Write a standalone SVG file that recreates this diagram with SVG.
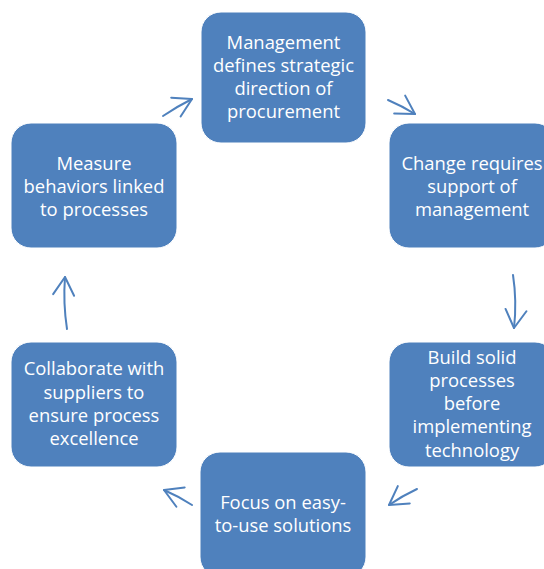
<svg xmlns="http://www.w3.org/2000/svg" width="544" height="569" viewBox="0 0 544 569">
  <style>
    .box { fill: #4F81BD; stroke: #ffffff; stroke-width: 1; }
    .label { font-family: "Open Sans", "Noto Sans", "Liberation Sans", sans-serif; font-size: 18.4px; fill: #ffffff; text-anchor: middle; }
    .arrow { fill: none; stroke: #4F81BD; stroke-width: 2; stroke-linecap: round; marker-end: url(#head); }
  </style>
  <defs>
    <marker id="head" markerUnits="userSpaceOnUse" viewBox="-22 -13 25 26" markerWidth="25" markerHeight="26" refX="0" refY="0" orient="auto">
      <path d="M-18,-10.5 L0,0 L-18,10.5" fill="none" stroke="#4F81BD" stroke-width="2" stroke-linecap="round" stroke-linejoin="round"/>
    </marker>
  </defs>
  <rect width="544" height="569" fill="#ffffff"/>

  <!-- cycle connectors -->
  <g id="connectors">
    <path class="arrow" d="M163,116 Q178,106 192,99"/>
    <path class="arrow" d="M388,100 Q402,106 415,114"/>
    <path class="arrow" d="M513,275 Q517,301 514,328"/>
    <path class="arrow" d="M417,489 Q402,496 389,505"/>
    <path class="arrow" d="M192,505 Q178,496 164,490"/>
    <path class="arrow" d="M67,329 Q63,303 65,277"/>
  </g>

  <g id="node-management">
    <rect class="box" x="201" y="12" width="165" height="131" rx="20" ry="20"/>
    <text class="label" x="283.5" y="48.5">Management</text>
    <text class="label" x="283.5" y="71.8">defines strategic</text>
    <text class="label" x="283.5" y="95.1">direction of</text>
    <text class="label" x="283.5" y="118.4">procurement</text>
  </g>

  <g id="node-change">
    <rect class="box" x="389" y="123" width="166" height="125" rx="20" ry="20"/>
    <text class="label" x="472" y="169.5">Change requires</text>
    <text class="label" x="472" y="192.8">support of</text>
    <text class="label" x="472" y="216.1">management</text>
  </g>

  <g id="node-build">
    <rect class="box" x="389" y="342" width="166" height="125" rx="20" ry="20"/>
    <text class="label" x="472" y="363.5">Build solid</text>
    <text class="label" x="472" y="386.8">processes</text>
    <text class="label" x="472" y="410.1">before</text>
    <text class="label" x="472" y="433.4">implementing</text>
    <text class="label" x="472" y="456.7">technology</text>
  </g>

  <g id="node-focus">
    <rect class="box" x="200" y="452" width="166" height="125" rx="20" ry="20"/>
    <text class="label" x="283" y="508.5">Focus on easy-</text>
    <text class="label" x="283" y="531.8">to-use solutions</text>
  </g>

  <g id="node-collaborate">
    <rect class="box" x="11" y="342" width="166" height="125" rx="20" ry="20"/>
    <text class="label" x="94" y="375.2">Collaborate with</text>
    <text class="label" x="94" y="398.5">suppliers to</text>
    <text class="label" x="94" y="421.8">ensure process</text>
    <text class="label" x="94" y="445.1">excellence</text>
  </g>

  <g id="node-measure">
    <rect class="box" x="11" y="123" width="166" height="125" rx="20" ry="20"/>
    <text class="label" x="94" y="169.5">Measure</text>
    <text class="label" x="94" y="192.8">behaviors linked</text>
    <text class="label" x="94" y="216.1">to processes</text>
  </g>
</svg>
